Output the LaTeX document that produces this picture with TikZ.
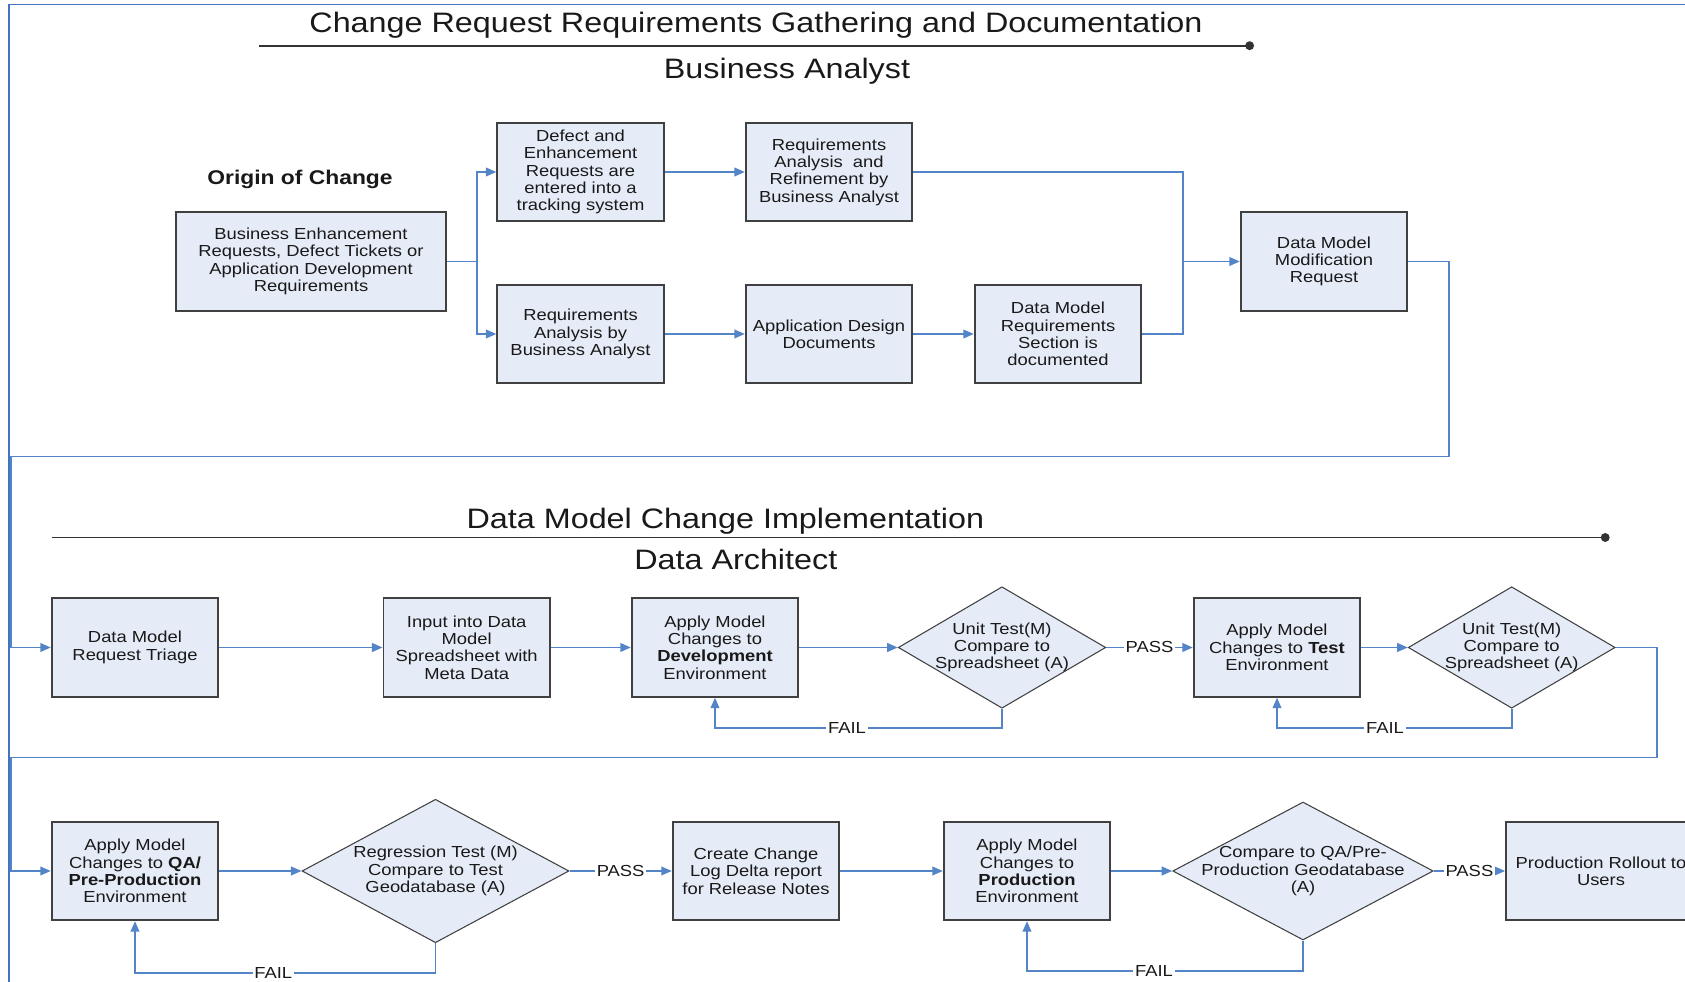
\documentclass[tikz,border=0pt]{standalone}
\usepackage{fontspec}
\setmainfont{Liberation Sans}[FakeStretch=1.15]
\usepackage{tikz}
\usetikzlibrary{shapes.geometric,arrows.meta}

\definecolor{boxfill}{RGB}{230,236,247}
\definecolor{boxline}{RGB}{64,64,64}
\definecolor{flowblue}{RGB}{84,132,200}
\definecolor{frameblue}{RGB}{68,114,196}

\newcommand{\flowfont}{\fontsize{9.1}{9.85}\selectfont}
\newcommand{\headfont}{\fontsize{16}{19}\selectfont}

\begin{document}
\begin{tikzpicture}[x=0.02cm, y=-0.02cm,
  box/.style={draw=boxline, line width=1.1pt, fill=boxfill, minimum width=3.33cm,
    minimum height=1.97cm, align=center, inner sep=0pt, font=\flowfont, text=black!90},
  decision/.style={diamond, draw=boxline, line width=0.6pt, fill=boxfill, inner sep=0pt},
  dtext/.style={align=center, font=\flowfont, text=black!90},
  flow/.style={draw=flowblue, line width=0.9pt, -{Triangle[length=6pt,width=5pt]}},
  link/.style={draw=flowblue, line width=0.9pt},
  tag/.style={fill=white, inner xsep=1pt, inner ysep=0.5pt, font=\flowfont, text=black!90},
  heading/.style={anchor=base, font=\headfont, text=black!90},
  divider/.style={draw=black!80, line width=1pt, -{Circle[length=5pt]}}]

\useasboundingbox (0,0) rectangle (1685,982);
\clip (0,0) rectangle (1685,982);

% outer frame
\draw[frameblue, line width=1.1pt] (9,1000) -- (9,4.5) -- (1700,4.5);

% --- requirements gathering ---
\node[heading] (title1) at (756,32.3) {Change Request Requirements Gathering and Documentation};
\draw[divider] (259,45.7) -- (1254,45.7);
\node[heading] (role1) at (787,78.3) {Business Analyst};
\node[anchor=base, font=\fontsize{11.3}{13}\selectfont\bfseries, text=black!90] (originhead) at (300,185) {Origin of Change};

\node[box, minimum width=5.4cm] (origin) at (311,261.5) {Business Enhancement\\Requests, Defect Tickets or\\Application Development\\Requirements};
\node[box] (defect) at (580.5,172) {Defect and\\Enhancement\\Requests are\\entered into a\\tracking system};
\node[box] (refine) at (829,172) {Requirements\\Analysis\ \ and\\Refinement by\\Business Analyst};
\node[box] (analysis) at (580.5,334) {Requirements\\Analysis by\\Business Analyst};
\node[box] (design) at (829,334) {Application Design\\Documents};
\node[box] (dmreq) at (1058,334) {Data Model\\Requirements\\Section is\\documented};
\node[box] (dmmod) at (1324,261.5) {Data Model\\Modification\\Request};

\coordinate (split) at (477,261.5);
\coordinate (merge) at (1183,261.5);
\draw[flow] (origin.east) -- (split) |- (defect.west);
\draw[flow] (split) |- (analysis.west);
\draw[flow] (defect) -- (refine);
\draw[flow] (analysis) -- (design);
\draw[flow] (design) -- (dmreq);
\draw[link] (refine.east) -| (merge);
\draw[link] (dmreq.east) -| (merge);
\draw[flow] (merge) -- (dmmod);

% --- implementation ---
\node[heading] (title2) at (725.4,528.3) {Data Model Change Implementation};
\draw[divider] (51.7,537.5) -- (1609.6,537.5);
\node[heading] (role2) at (735.8,570) {Data Architect};

\node[box] (triage) at (135,647.5) {Data Model\\Request Triage};
\node[box] (sheet) at (466.7,647.5) {Input into Data\\Model\\Spreadsheet with\\Meta Data};
\node[box] (devenv) at (715,647.5) {Apply Model\\Changes to\\\textbf{Development}\\Environment};
\node[decision, minimum width=4.15cm, minimum height=2.43cm,
  label={[dtext]center:{Unit Test(M)\\Compare to\\Spreadsheet (A)}}] (unittest) at (1002,647.5) {};
\node[box] (testenv) at (1277,647.5) {Apply Model\\Changes to \textbf{Test}\\Environment};
\node[decision, minimum width=4.14cm, minimum height=2.43cm,
  label={[dtext]center:{Unit Test(M)\\Compare to\\Spreadsheet (A)}}] (unittest2) at (1511.7,647.5) {};

\node[box] (qaenv) at (135,871) {Apply Model\\Changes to \textbf{QA/}\\\textbf{Pre-Production}\\Environment};
\node[decision, minimum width=5.34cm, minimum height=2.87cm,
  label={[dtext]center:{Regression Test (M)\\Compare to Test\\Geodatabase (A)}}] (regress) at (435.5,871) {};
\node[box] (changelog) at (756,871) {Create Change\\Log Delta report\\for Release Notes};
\node[box] (prodenv) at (1027,871) {Apply Model\\Changes to\\\textbf{Production}\\Environment};
\node[decision, minimum width=5.21cm, minimum height=2.76cm,
  label={[dtext]center:{Compare to QA/Pre-\\Production Geodatabase\\(A)}}] (compare) at (1303,871) {};
\node[box, minimum width=3.8cm] (rollout) at (1601,871) {Production Rollout to\\Users};

% hand-over from the analyst
\coordinate (r1) at (1449,456.5);
\coordinate (r2) at (11,456.5);
\draw[flow] (dmmod.east) -| (r1) -- (r2) |- (triage.west);

\draw[flow] (triage) -- (sheet);
\draw[flow] (sheet) -- (devenv);
\draw[flow] (devenv) -- (unittest);
\draw[flow] (unittest) -- node[tag]{PASS} (testenv);
\draw[flow] (testenv) -- (unittest2);
\draw[flow] (unittest.south) -- ++(0,19.5) -| node[tag, pos=0.27]{FAIL} (devenv.south);
\draw[flow] (unittest2.south) -- ++(0,19.5) -| node[tag, pos=0.27]{FAIL} (testenv.south);

% wrap to the release row
\coordinate (r3) at (1657,757.5);
\coordinate (r4) at (11,757.5);
\draw[flow] (unittest2.east) -| (r3) -- (r4) |- (qaenv.west);

\draw[flow] (qaenv) -- (regress);
\draw[flow] (regress) -- node[tag]{PASS} (changelog);
\draw[flow] (changelog) -- (prodenv);
\draw[flow] (prodenv) -- (compare);
\draw[flow] (compare) -- node[tag]{PASS} (rollout);
\draw[flow] (regress.south) -- ++(0,29.6) -| node[tag, pos=0.27]{FAIL} (qaenv.south);
\draw[flow] (compare.south) -- ++(0,30.7) -| node[tag, pos=0.27]{FAIL} (prodenv.south);

\end{tikzpicture}
\end{document}
